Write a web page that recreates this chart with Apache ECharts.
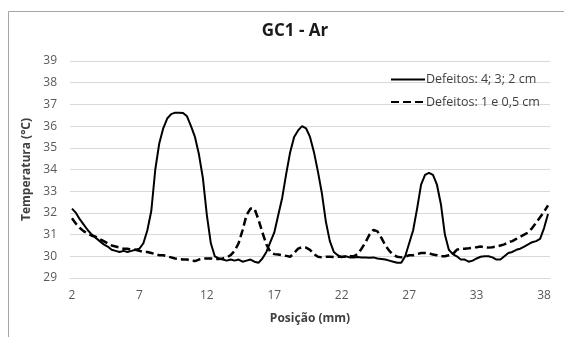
<!DOCTYPE html>
<html>
<head>
<meta charset="utf-8">
<script src="https://cdn.jsdelivr.net/npm/echarts@6/dist/echarts.min.js"></script>
<style>
html,body{margin:0;padding:0;background:#fff;}
#chart{width:564px;height:337px;}
</style>
</head>
<body>
<div id="chart"></div>
<script>
// Positions (mm), one category per sample
const positions = Array.from({length: 121}, (_, i) => +(2 + 0.3 * i).toFixed(1));
const xTickLabels = ['2', '7', '12', '17', '22', '27', '33', '38'];
const yTicks = [29, 30, 31, 32, 33, 34, 35, 36, 37, 38, 39];

// Defeitos: 4; 3; 2 cm (solid)
const seriesSolid = [
  32.2, 32.0, 31.7, 31.45, 31.2, 31.0, 30.85, 30.7, 30.55, 30.45,
  30.3, 30.25, 30.2, 30.25, 30.2, 30.25, 30.3, 30.35, 30.6, 31.2,
  32.1, 34.0, 35.2, 35.9, 36.35, 36.55, 36.62, 36.62, 36.6, 36.45,
  36.0, 35.5, 34.7, 33.6, 31.9, 30.6, 30.0, 29.9, 29.85, 29.8,
  29.85, 29.8, 29.85, 29.75, 29.8, 29.85, 29.75, 29.7, 29.9, 30.2,
  30.65, 31.1, 31.9, 32.7, 33.8, 34.8, 35.5, 35.8, 36.0, 35.9,
  35.5, 34.8, 33.9, 32.9, 31.6, 30.7, 30.2, 30.05, 29.95, 30.0,
  29.95, 29.95, 29.97, 29.95, 29.95, 29.93, 29.95, 29.9, 29.88, 29.85,
  29.8, 29.75, 29.7, 29.7, 30.0, 30.6, 31.2, 32.2, 33.3, 33.75,
  33.85, 33.75, 33.3, 32.4, 31.0, 30.3, 30.1, 30.0, 29.85, 29.85,
  29.75, 29.8, 29.9, 29.98, 30.0, 30.0, 29.95, 29.85, 29.85, 30.0,
  30.15, 30.2, 30.3, 30.35, 30.45, 30.55, 30.65, 30.7, 30.8, 31.3,
  31.95
];

// Defeitos: 1 e 0,5 cm (dashed)
const seriesDashed = [
  31.75, 31.5, 31.3, 31.15, 31.05, 30.95, 30.9, 30.8, 30.7, 30.6,
  30.5, 30.45, 30.4, 30.35, 30.35, 30.3, 30.3, 30.25, 30.2, 30.2,
  30.15, 30.1, 30.05, 30.05, 30.0, 29.95, 29.9, 29.87, 29.85, 29.85,
  29.8, 29.78, 29.85, 29.9, 29.9, 29.9, 29.88, 29.88, 29.9, 29.95,
  30.05, 30.25, 30.6, 31.2, 31.9, 32.2, 32.2, 31.7, 31.1, 30.55,
  30.2, 30.1, 30.08, 30.05, 30.02, 29.98, 30.15, 30.35, 30.42, 30.4,
  30.3, 30.1, 29.98, 29.95, 29.98, 29.98, 29.97, 29.98, 29.98, 29.99,
  30.0, 30.0, 30.1, 30.35, 30.65, 31.0, 31.22, 31.15, 30.85, 30.5,
  30.25, 30.06, 29.98, 29.95, 29.98, 30.05, 30.05, 30.1, 30.15, 30.15,
  30.14, 30.08, 30.05, 30.0, 30.0, 30.05, 30.1, 30.3, 30.35, 30.35,
  30.37, 30.4, 30.42, 30.45, 30.42, 30.4, 30.42, 30.45, 30.5, 30.55,
  30.65, 30.7, 30.8, 30.9, 31.0, 31.1, 31.3, 31.55, 31.8, 32.05,
  32.35
];

const FONT = '"Open Sans", "Noto Sans", sans-serif';
const chart = echarts.init(document.getElementById('chart'), null, {renderer: 'canvas'});
chart.setOption({
  backgroundColor: '#ffffff',
  animation: false,
  graphic: [{
    type: 'rect', left: 6, top: 9, z: -10,
    shape: {width: 700, height: 500},
    style: {fill: 'none', stroke: '#a6a6a6', lineWidth: 1}
  }],
  title: {
    text: 'GC1 - Ar', left: 290, top: 18, textAlign: 'center',
    textStyle: {fontFamily: FONT, fontSize: 17, fontWeight: 'bold', color: '#1a1a1a'}
  },
  legend: {
    orient: 'vertical', left: 385, top: 68, itemWidth: 34, itemHeight: 12, itemGap: 9.5,
    itemStyle: {opacity: 0},
    textStyle: {fontFamily: FONT, fontSize: 12.5, color: '#404040', padding: [0, 0, 0, -4]},
    data: ['Defeitos: 4; 3; 2 cm', 'Defeitos: 1 e 0,5 cm']
  },
  grid: {left: 70, right: 14, top: 61, bottom: 59, containLabel: false},
  xAxis: {
    type: 'category', data: positions, boundaryGap: true,
    name: 'Posição (mm)', nameLocation: 'middle', nameGap: 35,
    nameTextStyle: {fontFamily: FONT, fontSize: 12, fontWeight: 'bold', color: '#404040'},
    axisLine: {show: true, lineStyle: {color: '#d9d9d9', width: 1}},
    axisTick: {show: false},
    axisLabel: {
      interval: 16, margin: 12, fontFamily: FONT, fontSize: 12, color: '#595959',
      formatter: (v, idx) => xTickLabels[idx / 17] !== undefined ? xTickLabels[idx / 17] : ''
    },
    splitLine: {show: false}
  },
  yAxis: {
    type: 'value', min: yTicks[0], max: yTicks[yTicks.length - 1], interval: 1,
    name: 'Temperatura (°C)', nameLocation: 'middle', nameGap: 25, nameRotate: 90,
    nameTextStyle: {fontFamily: FONT, fontSize: 12, fontWeight: 'bold', color: '#404040'},
    axisLine: {show: false}, axisTick: {show: false},
    axisLabel: {margin: 13, fontFamily: FONT, fontSize: 12, color: '#595959'},
    splitLine: {show: true, lineStyle: {color: '#d9d9d9', width: 1}}
  },
  series: [
    {
      name: 'Defeitos: 4; 3; 2 cm', type: 'line', data: seriesSolid,
      symbol: 'none', showSymbol: false, smooth: false,
      lineStyle: {color: '#000000', width: 2, type: 'solid'},
      itemStyle: {color: '#000000'}
    },
    {
      name: 'Defeitos: 1 e 0,5 cm', type: 'line', data: seriesDashed,
      symbol: 'none', showSymbol: false, smooth: false,
      lineStyle: {color: '#000000', width: 2.5, type: [8, 4]},
      itemStyle: {color: '#000000'}
    }
  ]
});
</script>
</body>
</html>
